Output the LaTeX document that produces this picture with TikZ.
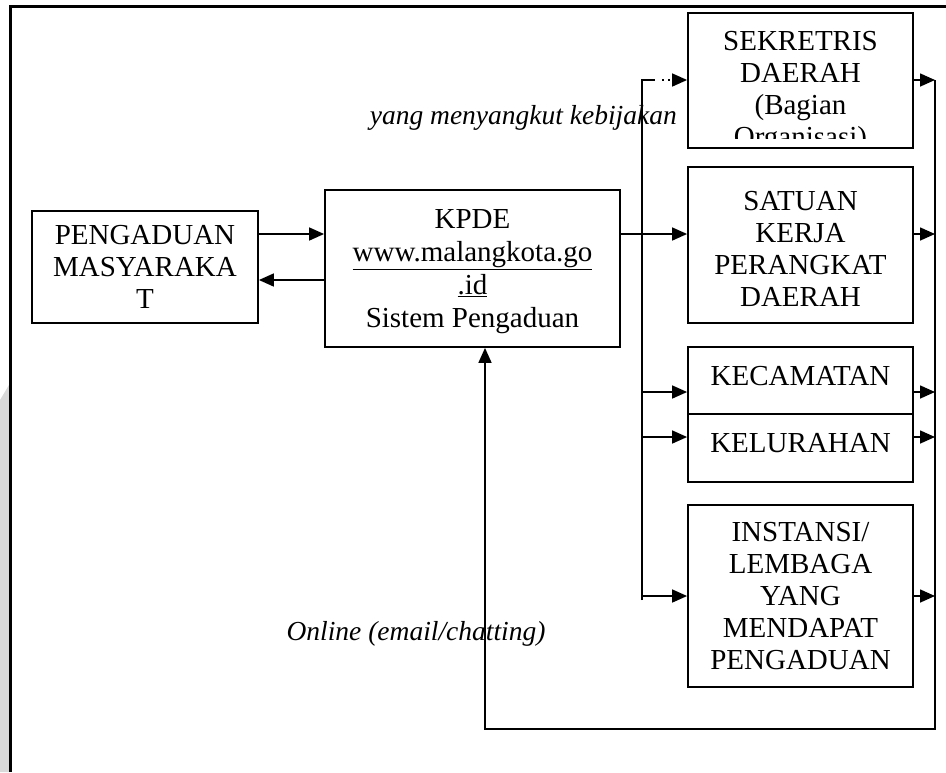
\documentclass[tikz,border=0pt]{standalone}
\usepackage{fontspec}
\setmainfont{Liberation Serif}
\usetikzlibrary{arrows.meta}
\begin{document}
\begin{tikzpicture}[x=1pt,y=-1pt,
  box/.style={draw, line width=1.8pt, align=center, inner sep=0pt, font=\fontsize{29}{32}\selectfont},
  txt/.style={align=center, inner sep=0pt, font=\fontsize{29}{32}\selectfont},
  ln/.style={line width=1.6pt},
  arr/.style={line width=1.6pt, -{Triangle[length=15pt,width=13pt]}},
  lab/.style={font=\fontsize{27.5}{30}\selectfont\itshape, inner sep=0pt}]
\useasboundingbox (0,0) rectangle (946,772);
\fill[white] (0,0) rectangle (946,772);
\fill[black!15] (0,400) -- (9,385) -- (9,772) -- (0,772) -- cycle;
\draw[line width=3pt] (10,772) -- (10,6) -- (946,6);

% boxes
\node[box, minimum width=226pt, minimum height=112pt] (P) at (145,267) {PENGADUAN\\MASYARAKA\\T};
\node[box, minimum width=295pt, minimum height=157pt] (K) at (472.5,268.5) {};
\node[txt, font=\fontsize{29}{33}\selectfont] (Kt) at (472.5,272) {KPDE\\\underline{www.malangkota.go}\\\underline{.id}\\Sistem Pengaduan};
\node[box, minimum width=225pt, minimum height=135pt] (S) at (800.5,80.5) {};
\begin{scope}
  \clip (689,14) rectangle (912,138);
  \node[txt] (St) at (800.5,92) {SEKRETRIS\\DAERAH\\(Bagian\\Organisasi)};
\end{scope}
\node[box, minimum width=225pt, minimum height=156pt] (SA) at (800.5,245) {};
\node[txt] (SAt) at (800.5,249) {SATUAN\\KERJA\\PERANGKAT\\DAERAH};
\node[box, minimum width=225pt, minimum height=67pt, text depth=10pt] (KC) at (800.5,380.5) {KECAMATAN};
\node[box, minimum width=225pt, minimum height=68pt, text depth=10pt] (KL) at (800.5,448) {KELURAHAN};
\node[box, minimum width=225pt, minimum height=182pt] (IN) at (800.5,596) {INSTANSI/\\LEMBAGA\\YANG\\MENDAPAT\\PENGADUAN};

% labels
\node[lab, anchor=base east] (L1) at (677,124) {yang menyangkut kebijakan};
\node[lab, anchor=base] (L2) at (416,640) {Online (email/chatting)};

% helper coordinates
\coordinate (yA) at (0,234);
\coordinate (yB) at (0,280);
\coordinate (ySek) at (0,80);
\coordinate (yKC) at (0,392);
\coordinate (yKL) at (0,437);
\coordinate (yIN) at (0,596);
\coordinate (B1) at (642,0);
\coordinate (R) at (935,0);
\coordinate (c1) at (935,729);
\coordinate (c2) at (485,729);

% connectors
\draw[arr] (P.east |- yA) -- (K.west |- yA);
\draw[arr] (K.west |- yB) -- (P.east |- yB);
\draw[arr] (K.east |- yA) -- (SA.west |- yA);

\draw[ln] (642,600) -- (B1 |- ySek) -- ++(13,0);
\draw[arr, dash pattern=on 2pt off 4pt] ([xshift=20pt]B1 |- ySek) -- (S.west |- ySek);
\draw[arr] (B1 |- yKC) -- (KC.west |- yKC);
\draw[arr] (B1 |- yKL) -- (KL.west |- yKL);
\draw[arr] (B1 |- yIN) -- (IN.west |- yIN);

\draw[arr] (S.east |- ySek) -- (R |- ySek);
\draw[arr] (SA.east |- yA) -- (R |- yA);
\draw[arr] (KC.east |- yKC) -- (R |- yKC);
\draw[arr] (KL.east |- yKL) -- (R |- yKL);
\draw[arr] (IN.east |- yIN) -- (R |- yIN);
\draw[arr] (R |- ySek) -- (c1) -- (c2) -- (c2 |- K.south);
\end{tikzpicture}
\end{document}
